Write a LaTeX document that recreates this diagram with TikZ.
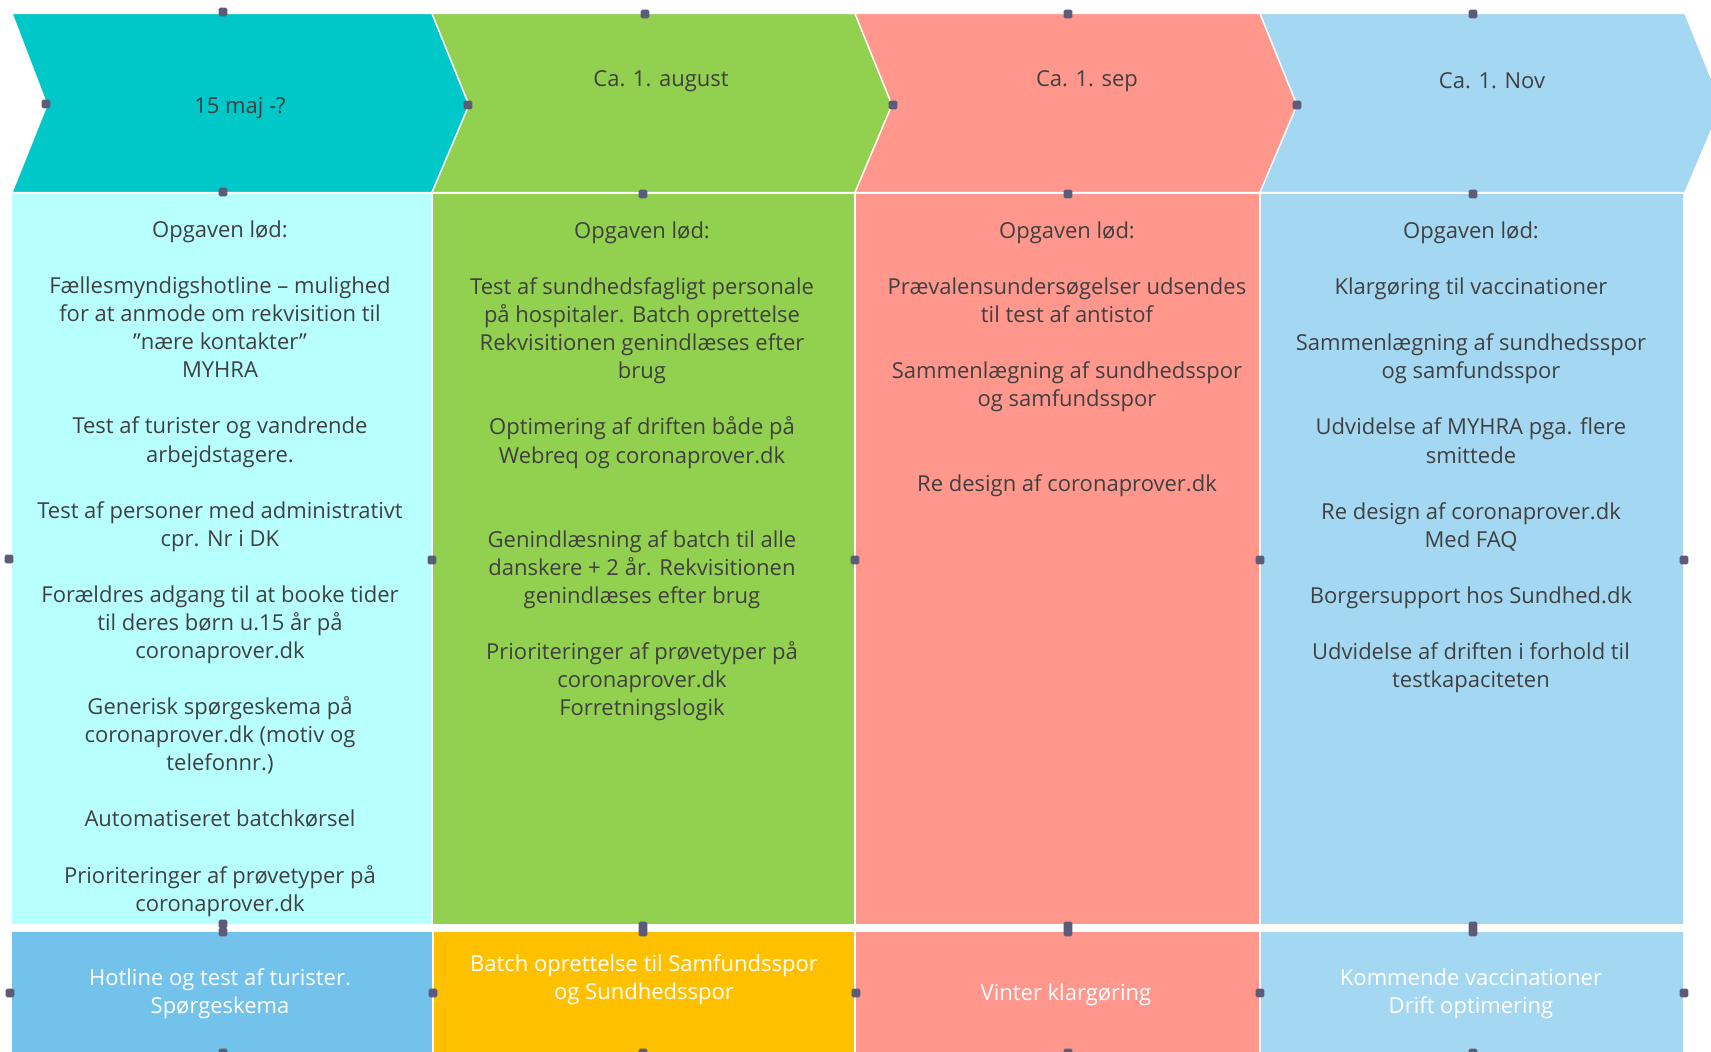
\documentclass[tikz,border=0pt]{standalone}
\usepackage{fontspec}
\setmainfont{Open Sans}
\definecolor{cteal}{HTML}{00C8C8}
\definecolor{ccyan}{HTML}{B8FFFF}
\definecolor{cgreen}{HTML}{92D050}
\definecolor{csalmon}{HTML}{FF978D}
\definecolor{clblue}{HTML}{A4D8F2}
\definecolor{cblue}{HTML}{72C2EC}
\definecolor{corange}{HTML}{FFC000}
\definecolor{txt}{HTML}{404040}
\definecolor{hdl}{HTML}{5C5C7A}
\newcommand{\bl}{\\[21.05pt]}
\newcommand{\bbl}{\\[42.1pt]}
\tikzset{
  band/.style={draw=white, line width=1pt},
  coltext/.style={anchor=north, align=center, inner sep=0pt, text=txt, font=\fontsize{16.5}{21.05}\selectfont},
  headtext/.style={anchor=center, inner sep=0pt, text=txt, font=\fontsize{16.5}{21.05}\selectfont},
  bottext/.style={anchor=center, align=center, inner sep=0pt, text=white, font=\fontsize{16.5}{21.05}\selectfont},
  handle/.style={fill=hdl, rounded corners=1.2pt, minimum size=6.5pt, inner sep=0pt}
}
\begin{document}
\begin{tikzpicture}[x=0.75pt,y=-0.75pt]
\useasboundingbox (0,0) rectangle (1711,1052);
\clip (0,0) rectangle (1711,1052);
\fill[white] (0,0) rectangle (1711,1052);
% chevrons
\fill[cteal, band] (12,13.5) -- (432,13.5) -- (469,105) -- (432,192.5) -- (12,192.5) -- (47,105) -- cycle;
\fill[cgreen, band] (432,13.5) -- (855,13.5) -- (892,105) -- (855,192.5) -- (432,192.5) -- (469,105) -- cycle;
\fill[csalmon, band] (855,13.5) -- (1260,13.5) -- (1297,105) -- (1260,192.5) -- (855,192.5) -- (892,105) -- cycle;
\fill[clblue, band] (1260,13.5) -- (1685,13.5) -- (1722,105) -- (1685,192.5) -- (1260,192.5) -- (1297,105) -- cycle;
% content columns
\fill[ccyan, band] (11,193) rectangle (432,925);
\fill[cgreen, band] (432,193) rectangle (855,925);
\fill[csalmon, band] (855,193) rectangle (1260,925);
\fill[clblue, band] (1260,193) rectangle (1684,925);
% bottom row
\fill[cblue, band] (11,931) rectangle (433,1070);
\fill[corange, band] (433,931) rectangle (855,1070);
\fill[csalmon, band] (855,931) rectangle (1260,1070);
\fill[clblue, band] (1260,931) rectangle (1684,1070);
% heading texts
\node[headtext] (h1) at (240,108) {15 maj -?};
\node[headtext] (h2) at (661,81) {Ca. 1. august};
\node[headtext] (h3) at (1087,81) {Ca. 1. sep};
\node[headtext] (h4) at (1492,81) {Ca. 1. Nov};
% column texts
\node[coltext] (t1) at (220,220.5) {Opgaven lød:\bl
Fællesmyndigshotline – mulighed\\ for at anmode om rekvisition til\\ ”nære kontakter”\\ MYHRA\bl
Test af turister og vandrende\\ arbejdstagere.\bl
Test af personer med administrativt\\ cpr. Nr i DK\bl
Forældres adgang til at booke tider\\ til deres børn u.15 år på\\ coronaprover.dk\bl
Generisk spørgeskema på\\ coronaprover.dk (motiv og\\ telefonnr.)\bl
Automatiseret batchkørsel\bl
Prioriteringer af prøvetyper på\\ coronaprover.dk};
\node[coltext] (t2) at (642,221.5) {Opgaven lød:\bl
Test af sundhedsfagligt personale\\ på hospitaler. Batch oprettelse\\ Rekvisitionen genindlæses efter\\ brug\bl
Optimering af driften både på\\ Webreq og coronaprover.dk\bbl
Genindlæsning af batch til alle\\ danskere + 2 år. Rekvisitionen\\ genindlæses efter brug\bl
Prioriteringer af prøvetyper på\\ coronaprover.dk\\ Forretningslogik};
\node[coltext] (t3) at (1067,221.5) {Opgaven lød:\bl
Prævalensundersøgelser udsendes\\ til test af antistof\bl
Sammenlægning af sundhedsspor\\ og samfundsspor\bbl
Re design af coronaprover.dk};
\node[coltext] (t4) at (1471,221.5) {Opgaven lød:\bl
Klargøring til vaccinationer\bl
Sammenlægning af sundhedsspor\\ og samfundsspor\bl
Udvidelse af MYHRA pga. flere\\ smittede\bl
Re design af coronaprover.dk\\ Med FAQ\bl
Borgersupport hos Sundhed.dk\bl
Udvidelse af driften i forhold til\\ testkapaciteten};
% bottom texts
\node[bottext] (b1) at (220,994) {Hotline og test af turister.\\ Spørgeskema};
\node[bottext] (b2) at (644,980) {Batch oprettelse til Samfundsspor\\ og Sundhedsspor};
\node[bottext] (b3) at (1066,995) {Vinter klargøring};
\node[bottext] (b4) at (1471,994) {Kommende vaccinationer\\ Drift optimering};
% handles
\foreach \p [count=\i] in {(223,12),(46,104),(468,105),(223,192),
  (645,14),(893,105),(643,194),
  (1068,14),(1297,105),(1068,194),
  (1473,14),(1473,194),
  (9,559),(432,560),(855,560),(1260,560),(1684,560),
  (223,924),(643,926),(1068,926),(1473,926),
  (223,932),(643,932),(1068,932),(1473,932),
  (10,993),(433,993),(856,993),(1260,993),(1684,993),
  (223,1053),(643,1053),(1068,1053),(1473,1053)}
  \node[handle] (k\i) at \p {};
\end{tikzpicture}
\end{document}
